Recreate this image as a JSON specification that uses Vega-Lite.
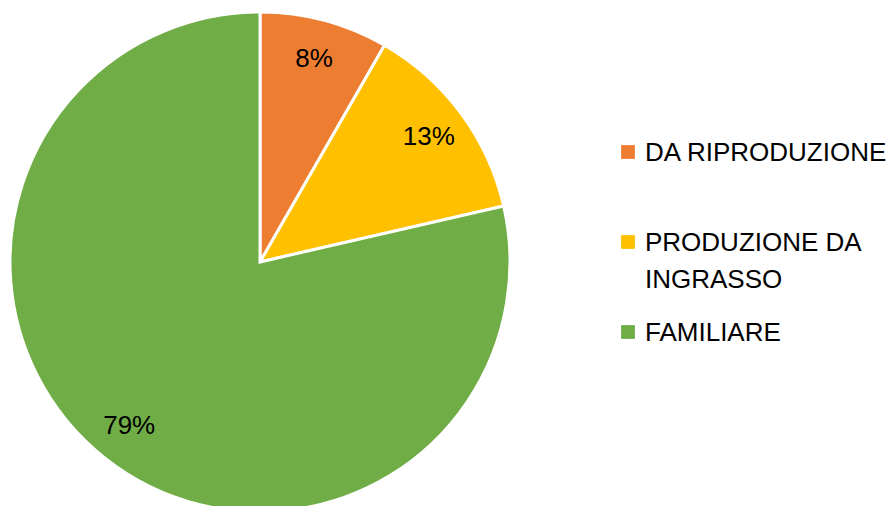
{
  "$schema": "https://vega.github.io/schema/vega-lite/v6.json",
  "width": 520,
  "height": 524,
  "padding": 0,
  "autosize": {"type": "pad"},
  "background": "white",
  "config": {
    "style": {
      "guide-label": {"lineHeight": 37, "dy": -12}
    }
  },
  "data": {
    "values": [
      {"categoria": "DA RIPRODUZIONE", "valore": 8.3, "etichetta": "8%", "ordine": 1},
      {"categoria": "PRODUZIONE DA INGRASSO", "valore": 13.1, "etichetta": "13%", "ordine": 2},
      {"categoria": "FAMILIARE", "valore": 78.6, "etichetta": "79%", "ordine": 3}
    ]
  },
  "encoding": {
    "theta": {"field": "valore", "type": "quantitative", "stack": true},
    "order": {"field": "ordine", "type": "quantitative"}
  },
  "layer": [
    {
      "mark": {"type": "arc", "radius": 250, "stroke": "white", "strokeWidth": 3},
      "encoding": {
        "color": {
          "field": "categoria",
          "type": "nominal",
          "scale": {
            "domain": ["DA RIPRODUZIONE", "PRODUZIONE DA INGRASSO", "FAMILIARE"],
            "range": ["#ED7D31", "#FFC000", "#70AD47"]
          },
          "legend": {
            "title": null,
            "orient": "none",
            "legendX": 615,
            "legendY": 139,
            "padding": 0,
            "symbolType": "square",
            "symbolSize": 190,
            "symbolStrokeWidth": 0,
            "symbolOpacity": 1,
            "labelFont": "Liberation Sans",
            "labelFontSize": 26,
            "labelColor": "#000000",
            "labelLimit": 400,
            "labelOffset": 4,
            "labelBaseline": "top",
            "labelExpr": "datum.label == 'PRODUZIONE DA INGRASSO' ? ['PRODUZIONE DA', 'INGRASSO'] : datum.label",
            "gridAlign": "all",
            "rowPadding": 26
          }
        }
      }
    },
    {
      "mark": {"type": "text", "radius": 210, "font": "Liberation Sans", "fontSize": 26, "color": "#000000"},
      "encoding": {
        "text": {"field": "etichetta", "type": "nominal"}
      }
    }
  ]
}
